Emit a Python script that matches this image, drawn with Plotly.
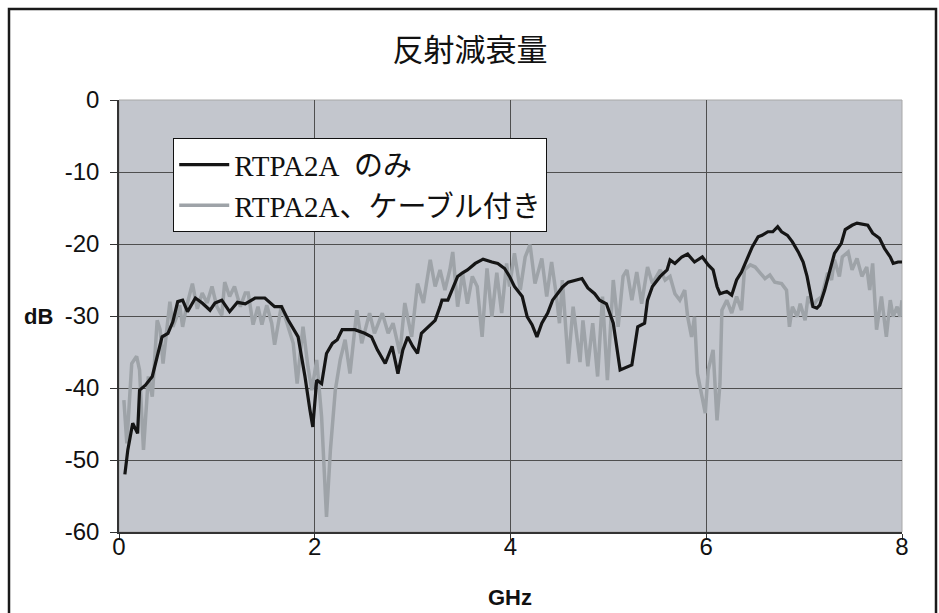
import plotly.graph_objects as go

# ---- data ----
title_text = "反射減衰量"
x_label = "GHz"
y_label = "dB"
name_black = "RTPA2A\u00a0\u00a0のみ"
name_gray = "RTPA2A、ケーブル付き"

x_ticks = [0, 2, 4, 6, 8]
y_ticks = [0, -10, -20, -30, -40, -50, -60]

freq_black = [0.06, 0.09, 0.14, 0.19, 0.21, 0.27, 0.34, 0.39, 0.44, 0.50, 0.55, 0.60, 0.65, 0.70,
              0.78, 0.85, 0.93, 0.98, 1.05, 1.13, 1.21, 1.29, 1.39, 1.49, 1.59, 1.66, 1.73, 1.83,
              1.90, 1.95, 1.98, 2.02, 2.07, 2.12, 2.18, 2.23, 2.28, 2.34, 2.41, 2.51, 2.58, 2.64,
              2.72, 2.79, 2.85, 2.90, 2.95, 3.00, 3.05, 3.09, 3.16, 3.23, 3.28, 3.30, 3.36, 3.41,
              3.46, 3.51, 3.56, 3.64, 3.72, 3.81, 3.87, 3.94, 3.99, 4.04, 4.12, 4.17, 4.22, 4.27,
              4.32, 4.38, 4.43, 4.48, 4.53, 4.59, 4.66, 4.73, 4.79, 4.86, 4.91, 4.98, 5.05, 5.09,
              5.12, 5.24, 5.27, 5.30, 5.37, 5.40, 5.45, 5.53, 5.60, 5.63, 5.68, 5.75, 5.81, 5.88,
              5.96, 6.02, 6.07, 6.11, 6.14, 6.21, 6.26, 6.31, 6.36, 6.41, 6.47, 6.53, 6.57, 6.63,
              6.68, 6.73, 6.77, 6.83, 6.88, 6.94, 6.99, 7.03, 7.06, 7.09, 7.13, 7.16, 7.21, 7.26,
              7.31, 7.38, 7.42, 7.49, 7.54, 7.65, 7.70, 7.77, 7.82, 7.88, 7.91, 7.96, 8.00]
db_black = [-52.0, -48.6, -44.9, -46.3, -40.3, -39.6, -38.4, -35.6, -32.9, -32.4, -30.8, -28.0, -27.8, -29.4,
            -27.5, -28.2, -29.2, -28.2, -27.8, -29.4, -28.1, -28.3, -27.5, -27.5, -28.7, -28.7, -30.6, -32.9,
            -38.4, -43.0, -45.4, -38.9, -39.4, -35.2, -33.8, -33.3, -31.9, -31.9, -31.9, -32.4, -32.9, -34.7,
            -36.6, -34.2, -38.0, -34.7, -32.9, -34.2, -35.2, -32.4, -31.5, -30.6, -28.7, -27.8, -27.8, -26.0,
            -24.5, -24.0, -23.6, -22.7, -22.1, -22.5, -22.7, -23.4, -24.5, -25.9, -27.3, -30.1, -31.2, -32.9,
            -31.0, -29.6, -27.8, -26.9, -26.0, -25.3, -25.0, -24.8, -26.1, -26.9, -27.8, -28.3, -31.0, -35.0,
            -37.5, -36.8, -33.8, -31.5, -31.0, -27.8, -25.9, -24.5, -23.6, -22.2, -22.7, -21.8, -21.4, -22.5,
            -21.8, -22.9, -23.6, -25.9, -26.9, -26.6, -27.1, -25.0, -23.9, -22.2, -20.4, -19.0, -18.8, -18.3,
            -18.3, -17.6, -18.3, -18.8, -19.7, -21.1, -22.5, -24.5, -26.4, -28.7, -28.9, -28.5, -26.4, -24.0,
            -21.3, -19.9, -18.0, -17.4, -17.1, -17.4, -18.5, -19.2, -20.6, -21.8, -22.7, -22.5, -22.5]

freq_gray = [0.05, 0.08, 0.13, 0.18, 0.21, 0.25, 0.30, 0.34, 0.39, 0.42, 0.45, 0.49, 0.52, 0.55,
             0.59, 0.62, 0.65, 0.69, 0.75, 0.80, 0.85, 0.90, 0.95, 1.00, 1.05, 1.08, 1.13, 1.18,
             1.24, 1.29, 1.32, 1.37, 1.42, 1.46, 1.51, 1.56, 1.59, 1.66, 1.73, 1.78, 1.82, 1.88,
             1.93, 1.97, 2.02, 2.07, 2.12, 2.16, 2.21, 2.26, 2.31, 2.36, 2.43, 2.48, 2.56, 2.61,
             2.69, 2.75, 2.80, 2.87, 2.92, 2.99, 3.05, 3.11, 3.18, 3.23, 3.28, 3.33, 3.38, 3.41,
             3.46, 3.51, 3.56, 3.61, 3.66, 3.71, 3.76, 3.81, 3.86, 3.91, 3.96, 3.99, 4.04, 4.10,
             4.15, 4.20, 4.25, 4.32, 4.37, 4.42, 4.47, 4.50, 4.53, 4.59, 4.64, 4.71, 4.74, 4.79,
             4.84, 4.89, 4.94, 4.99, 5.05, 5.10, 5.15, 5.19, 5.24, 5.29, 5.34, 5.40, 5.45, 5.53,
             5.58, 5.63, 5.68, 5.73, 5.78, 5.81, 5.85, 5.88, 5.91, 5.96, 5.99, 6.02, 6.07, 6.11,
             6.14, 6.16, 6.21, 6.26, 6.31, 6.36, 6.39, 6.45, 6.50, 6.55, 6.60, 6.65, 6.70, 6.77,
             6.82, 6.85, 6.88, 6.93, 6.96, 7.01, 7.04, 7.09, 7.13, 7.18, 7.21, 7.24, 7.28, 7.31,
             7.36, 7.39, 7.45, 7.49, 7.54, 7.59, 7.64, 7.67, 7.70, 7.74, 7.79, 7.84, 7.88, 7.91,
             7.95, 7.98, 8.00]
db_gray = [-41.7, -47.7, -36.6, -35.6, -37.5, -48.6, -38.4, -41.2, -30.6, -31.9, -36.6, -31.5, -28.0, -31.5,
           -30.1, -28.5, -31.5, -28.7, -25.5, -29.0, -26.8, -28.2, -25.9, -28.7, -29.9, -25.3, -27.3, -25.9,
           -28.7, -26.8, -26.8, -31.2, -28.7, -31.2, -28.5, -31.0, -34.0, -28.5, -31.5, -33.8, -39.4, -31.5,
           -37.0, -40.3, -36.1, -44.0, -57.9, -48.6, -40.3, -36.1, -33.3, -38.0, -29.2, -33.8, -29.6, -32.4,
           -29.6, -32.4, -31.0, -35.2, -28.2, -32.9, -25.5, -28.2, -22.2, -25.9, -23.6, -26.4, -23.6, -21.1,
           -28.7, -24.0, -28.3, -24.5, -25.9, -32.9, -23.4, -30.1, -24.0, -29.6, -22.7, -25.9, -21.3, -26.4,
           -21.8, -20.1, -25.5, -22.0, -27.3, -22.5, -27.3, -31.0, -25.0, -36.6, -28.7, -36.4, -30.6, -37.0,
           -31.0, -38.4, -27.3, -38.9, -25.0, -31.5, -24.5, -23.6, -27.8, -23.9, -28.3, -23.2, -25.5, -23.6,
           -25.0, -24.5, -26.9, -27.8, -26.4, -30.1, -32.9, -30.1, -38.0, -41.2, -43.5, -37.5, -34.7, -44.5,
           -39.4, -29.2, -27.8, -29.6, -27.3, -29.2, -23.6, -22.9, -23.2, -24.0, -24.8, -24.3, -25.3, -25.5,
           -26.4, -31.5, -28.7, -30.1, -28.3, -30.6, -27.3, -28.7, -27.8, -27.3, -25.5, -24.0, -25.0, -22.2,
           -24.5, -21.8, -21.1, -23.6, -22.0, -24.5, -23.2, -26.4, -22.7, -31.9, -27.3, -32.9, -27.8, -30.1,
           -28.7, -30.1, -27.8]

# ---- styling ----
PLOT_BG = "#C3C6CD"
GRAY_LINE = "#9EA3A8"
GRID = "#4F4F4F"
TICK_FONT = dict(family="Liberation Sans, Arial, sans-serif", size=24, color="#111111")

W, H = 939, 613

fig = go.Figure()
fig.add_trace(go.Scatter(x=freq_gray, y=db_gray, mode="lines", name=name_gray,
                         line=dict(color=GRAY_LINE, width=3.5), legendrank=2))
fig.add_trace(go.Scatter(x=freq_black, y=db_black, mode="lines", name=name_black,
                         line=dict(color="#151515", width=3.2), legendrank=1))

fig.update_layout(
    width=W, height=H,
    margin=dict(l=119, r=37, t=100, b=81),
    paper_bgcolor="white",
    plot_bgcolor=PLOT_BG,
    hovermode=False,
    title=dict(text=title_text, x=470 / W, xanchor="center", xref="container",
               y=1 - 50 / H, yanchor="middle",
               font=dict(family="Noto Sans CJK JP, sans-serif", size=31, color="#111111")),
    showlegend=True,
    legend=dict(x=0.069, y=0.912, xanchor="left", yanchor="top",
                bgcolor="white", bordercolor="#111111", borderwidth=1.2,
                font=dict(family="Liberation Serif, Noto Sans CJK JP, serif", size=29, color="#111111"),
                tracegroupgap=0, itemwidth=50),
    xaxis=dict(range=[0, 8], tickvals=x_ticks, ticktext=[str(v) for v in x_ticks],
               showgrid=True, gridcolor=GRID, gridwidth=1,
               showline=True, linecolor="#333333", linewidth=1.5,
               ticks="outside", ticklen=6, tickcolor="#333333",
               tickfont=TICK_FONT, zeroline=False, ticklabelstandoff=-14),
    yaxis=dict(range=[-60, 0], tickvals=y_ticks, ticktext=[str(v) for v in y_ticks],
               showgrid=True, gridcolor=GRID, gridwidth=1,
               showline=True, linecolor="#333333", linewidth=1.5,
               ticks="outside", ticklen=7, tickcolor="#333333",
               tickfont=TICK_FONT, zeroline=False, ticklabelstandoff=6),
    shapes=[
        # light border on top/right of the plot area
        dict(type="rect", xref="paper", yref="paper", x0=0, x1=1, y0=0, y1=1,
             line=dict(color="#A8A8A8", width=1), fillcolor="rgba(0,0,0,0)", layer="below"),
        # outer chart frame
        dict(type="rect", xref="paper", yref="paper",
             x0=(9 - 119) / 783, x1=(936 - 119) / 783,
             y0=(532 - 640) / 432, y1=(532 - 9) / 432,
             line=dict(color="#1A1A1A", width=2.5), fillcolor="rgba(0,0,0,0)"),
    ],
    annotations=[
        dict(text="<b>" + y_label + "</b>", xref="paper", yref="paper",
             x=(38 - 119) / 783, y=(532 - 316) / 432, xanchor="center", yanchor="middle",
             showarrow=False, font=dict(family="Liberation Sans, Arial, sans-serif", size=22, color="#111111")),
        dict(text="<b>" + x_label + "</b>", xref="paper", yref="paper",
             x=(510 - 119) / 783, y=(532 - 597) / 432, xanchor="center", yanchor="middle",
             showarrow=False, font=dict(family="Liberation Sans, Arial, sans-serif", size=22, color="#111111")),
    ],
)

fig.write_html(
    "out.html",
    config={"displayModeBar": False},
    post_script="document.body.style.margin='0';document.body.style.overflow='hidden';",
)
